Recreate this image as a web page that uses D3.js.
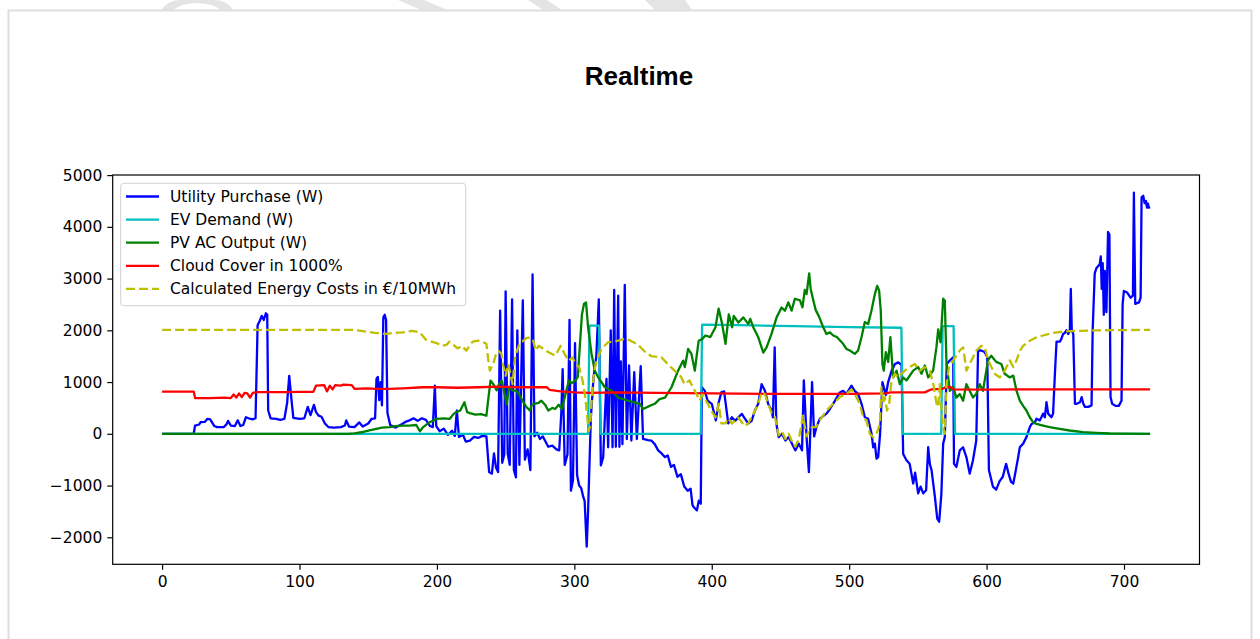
<!DOCTYPE html>
<html>
<head>
<meta charset="utf-8">
<script src="https://cdn.jsdelivr.net/npm/d3@7"></script>
<style>
  body { margin: 0; background: #fff; }
  svg { display: block; font-family: "DejaVu Sans", sans-serif; }
  .title { font-family: "Liberation Sans", Arial, sans-serif; font-weight: bold; font-size: 26px; }
  .axis text { font-size: 15.5px; fill: #000; font-family: "DejaVu Sans", sans-serif; }
  .axis line { stroke: #000; stroke-width: 1.2; }
  .axis path.domain { display: none; }
  .legend text { font-size: 15.5px; fill: #000; }
  .series { fill: none; stroke-width: 2.3; stroke-linejoin: round; }
  .mark { fill: #e4e4e4; }
</style>
</head>
<body>
<svg id="svg" width="1260" height="639">
  <g id="page"></g>
  <g id="lines"></g>
  <g id="frame"></g>
  <g id="legend" class="legend"></g>
</svg>
<script>
// minutes -> watts
const utilityPurchase = [
  [0,0],[23,0],[24,160],[27,180],[28,225],[31,230],[33,290],[35,280],[38,150],[40,130],[45,130],[47,190],[48,250],
  [50,160],[53,150],[55,260],[57,150],[59,170],[61,320],[63,300],[66,280],[68,300],[69.5,2100],[71,2180],[72.5,2280],
  [74,2200],[75.5,2330],[76.5,2300],[77.2,450],[79,300],[83,290],[86,270],[89,290],[91,600],[92.5,1120],[94,700],
  [95.5,310],[100,290],[103.5,300],[106,520],[108,360],[110.5,560],[112,420],[114,350],[116,330],[118.5,200],[121,130],
  [125,120],[130,130],[133,160],[134,260],[136,140],[140,130],[143.5,220],[146,140],[150,200],[152.5,290],[155,300],
  [156,1060],[157,1100],[158,650],[159,1000],[160,550],[161,2250],[162,2300],[163,2200],[164,400],[166,170],[170,120],
  [174,180],[177,230],[180,260],[183,300],[186,250],[189,300],[192,270],[195,150],[197,130],[198.5,930],[199.5,150],
  [202,50],[205,100],[208,-20],[211,60],[213,-40],[214.5,450],[216,-60],[219,-20],[221,-150],[224,-130],[227,-60],
  [230,-80],[233,-40],[236,-50],[238,-740],[240,-770],[241.5,-380],[243,-650],[244.5,-740],[246,2380],[247.5,-560],
  [249,-400],[250,2750],[251.5,-380],[253,-600],[254.7,2600],[256,-700],[257.5,-840],[258.5,2000],[260,-600],
  [262.5,2580],[264,-500],[266,-300],[268,-700],[269.6,3080],[271,-50],[273,20],[275,-100],[277,-50],[279,-150],
  [281,-250],[284,-230],[287,-300],[289,-320],[290.5,400],[291.5,1250],[293,-600],[295,-400],[296.5,2200],
  [297.5,-1100],[299,-900],[300.5,1750],[302,-800],[303.5,-1000],[305,-1050],[306.5,-1220],[307.5,-1300],[309,-2180],
  [310,-1500],[312,300],[314,1100],[316,1500],[317.8,2600],[319.3,-610],[321,-450],[323.4,1060],[324.6,-260],
  [326.5,2000],[327.8,-260],[329,2780],[330.2,-250],[331.9,2670],[332.8,-250],[333.8,1400],[335,-200],[336.7,2880],
  [338.2,-100],[339.8,1320],[341.5,-130],[343.6,1190],[345.5,-100],[348.3,1310],[350,-100],[353.6,-120],[356,-130],
  [358.5,-200],[361,-320],[363.5,-380],[366,-450],[368,-420],[370.3,-640],[372.5,-600],[375,-830],[377.5,-780],
  [380,-1020],[382.5,-1100],[384.6,-1060],[386,-1380],[387,-1420],[389.2,-1480],[390.6,-1290],[392,-1350],[392.8,900],
  [395,830],[397,640],[400,580],[403,260],[405,600],[407,800],[409,820],[412,200],[414.6,320],[417,250],[419.4,320],
  [421.9,385],[424,300],[426.5,200],[429,250],[431.4,450],[433.8,580],[436.3,960],[438.7,830],[441,580],[443.6,450],
  [444.5,320],[445.8,1670],[447,200],[448.7,-64],[451.1,0],[453.6,-130],[456,-60],[458.4,-190],[460.8,-320],
  [463.3,-190],[465.7,-320],[467,1030],[469,-60],[470.7,-740],[473,1000],[474.5,-50],[476.2,130],[478.6,290],
  [481,340],[483.5,390],[486,480],[488.3,580],[491,700],[493.2,800],[495.6,830],[498,770],[501.7,930],[504,830],
  [506.5,770],[509,580],[511.4,320],[513.8,290],[516.3,0],[517.5,-260],[518.7,-190],[519.9,-480],[521.1,-450],
  [522.5,0],[524.2,1000],[526.7,750],[528.4,1000],[530.9,1220],[533.3,1350],[535.7,1380],[538.1,1330],[539.3,-390],
  [541.7,-510],[544,-580],[546.6,-960],[548,-750],[550.2,-1150],[552,-1020],[553.9,-1150],[556,-1090],[557.5,-260],
  [558.7,-580],[560,-710],[562.4,-1220],[564.1,-1640],[565.5,-1700],[567.1,-1160],[568.4,-190],[569.6,-64],[571,1350],
  [573.2,1415],[575.7,1480],[576.3,-580],[578,-640],[580.5,-320],[582.9,-260],[585.3,-450],[587.7,-770],[590.1,-510],
  [592.5,-130],[593.8,1610],[596,1610],[598.6,1580],[600.5,1480],[601.7,-700],[604.6,-1020],[607,-1080],[609.4,-920],
  [611.8,-830],[614.2,-580],[616,-770],[617.8,-930],[619.4,-960],[620.6,-800],[623,-450],[624.2,-260],[626.6,-190],
  [629,-64],[631.5,130],[632.7,190],[635.1,220],[636.3,290],[638.7,260],[639.9,320],[641.1,390],[642.4,320],
  [643.6,610],[644.8,390],[647.2,320],[648.4,390],[649.6,1090],[650.9,1780],[653.3,1780],[654.5,1840],[655.7,1930],
  [656.9,1950],[658.1,2000],[659.4,1930],[660.6,2000],[661.3,2800],[662,2000],[663.1,1930],[664.3,580],[665.5,580],
  [668,610],[669.2,710],[670.4,580],[671.6,520],[674,520],[676.4,550],[677.2,2000],[678.7,3100],[679.9,3200],
  [681.1,3240],[682.4,3280],[683.1,3430],[683.8,2800],[684.5,3300],[685.3,2300],[686,3150],[687.2,2350],[688.4,3900],
  [689.4,3850],[690.2,710],[691.4,580],[693.8,540],[696.2,540],[698.2,640],[699,2500],[699.9,2760],[702.3,2730],
  [704.8,2630],[706.5,2670],[707.2,4660],[708.2,2510],[710.9,2540],[712.1,2630],[712.8,4570],[714,4600],[715,4460],
  [716,4500],[716.7,4370],[717.4,4450],[718,4370],[719,4380]
];

const evDemand = [
  [0,0],[310,0],[311,2090],[318,2090],[319,0],[392,0],[393,2110],[420,2100],[460,2080],[500,2060],[538,2050],
  [539,0],[567,0],[568,2080],[576,2080],[577,0],[719,0]
];

const pvOutput = [
  [0,0],[135,0],[140,10],[145,30],[150,60],[155,90],[160,120],[165.7,129],[170,150],[175,160],[180,160],[185,170],
  [187.6,50],[190,130],[194.8,225],[199.7,290],[205,300],[209.4,290],[212,380],[214,418],[217,450],[220,611],[222,420],
  [224,400],[228,370],[232,380],[236,350],[237.5,700],[239,1029],[241,960],[243.5,840],[245,950],[247.1,1029],[249,800],
  [250.8,570],[252.5,900],[255,840],[258,830],[260,750],[262.9,611],[265,520],[267.7,450],[269,560],[271,580],[274,600],
  [276,640],[279,550],[281,450],[284,500],[286,480],[288.6,560],[291,480],[293,700],[296,1030],[298,980],[300.8,1030],
  [302.5,1100],[304,1700],[305.5,2300],[307,2510],[308.5,2540],[310,2059],[312.5,1545],[314.9,1220],[317.4,1090],
  [322.2,900],[327,832],[332,700],[339,640],[347.6,580],[350,480],[354.8,540],[358.5,580],[362,670],[366,700],
  [370.7,900],[375.5,1220],[379.2,1415],[380.4,1290],[382.8,1640],[385.2,1545],[387.7,1220],[389,1500],[390.5,1800],
  [393,1830],[395.4,1900],[399,1870],[402.7,2060],[405,2420],[407.5,2130],[410,1740],[412.4,2310],[414.8,2060],
  [416,2280],[419.4,2150],[423,2250],[426.6,2120],[428,2220],[430.2,2060],[433.8,1870],[437.5,1570],[439.9,1670],
  [443.5,1930],[447.2,2250],[450.8,2440],[453.3,2380],[455.7,2540],[458.1,2380],[460.5,2610],[464.2,2580],[466,2444],
  [467.7,2780],[469,2700],[470.9,3100],[472,2800],[473.2,2660],[475.6,2395],[478,2270],[481.1,2060],[483.5,1930],
  [486,1960],[488.4,1900],[491,1870],[495.6,1740],[498,1640],[500.5,1610],[504.1,1545],[506.5,1610],[509,1870],
  [511.4,2160],[513.8,2120],[516.2,2380],[518.7,2700],[520.4,2860],[521.8,2770],[523,2380],[524.2,1350],[525.2,1220],
  [526.7,1580],[528.4,1390],[530,1870],[532,1090],[534.5,1220],[536.9,960],[539.3,1090],[541.7,1030],[546.6,1220],
  [550.2,1290],[552.6,1160],[555.1,1320],[557.5,1090],[561.1,1220],[563.5,1670],[564.8,2020],[566.5,1770],
  [568.4,2610],[569.6,2570],[570.8,1390],[573.2,830],[575.7,900],[578,700],[580.5,770],[582.9,640],[585.3,960],
  [587.7,830],[590.1,700],[592.5,770],[595,960],[597.4,830],[601,1420],[603.4,1510],[607,1390],[610.7,1350],
  [613.2,1160],[616.8,1090],[619.4,1125],[621.8,830],[624.2,640],[626.6,540],[629,450],[631.4,320],[633.8,225],
  [636.3,190],[641.1,160],[645.9,130],[653.2,96],[660.5,64],[670.2,32],[679.9,19],[689.6,6],[700,2],[719,0]
];

const cloudCover = [
  [0,816],[23,816],[24,690],[35,690],[45,700],[50,690],[52,760],[54,700],[56,780],[58,710],[60,790],[62,780],[64,700],
  [66,790],[68,800],[70,804],[90,804],[100,810],[110,810],[112,930],[118,940],[120,820],[122,930],[124,860],[126,940],
  [130,930],[132,950],[138,940],[140,870],[150,880],[155,870],[165,870],[175,880],[190,900],[200,900],[215,890],
  [230,900],[245,910],[260,900],[280,900],[282,850],[290,820],[300,800],[311,790],[330,800],[360,790],[400,780],
  [450,770],[500,770],[527,780],[530,800],[555,800],[560,860],[568,870],[570,900],[574,900],[576,860],[600,855],
  [650,860],[719,860]
];

const energyCosts = [
  [0,2008],[140,2008],[145,1990],[150,1970],[155,1950],[160,1940],[163,1930],[168,1950],[175,1960],[182,1990],
  [187.6,1960],[190,1880],[192,1820],[196,1780],[200,1750],[204,1700],[207,1720],[209,1780],[212,1720],[215,1650],
  [218,1700],[221.5,1608],[224,1720],[226,1780],[230,1800],[233,1780],[236,1740],[237.5,1400],[238.5,1222],[241,1350],
  [243,1540],[245,1600],[247,1540],[248,1350],[250,1120],[252,1350],[255,960],[257,1500],[260,1740],[263,1800],
  [265,1850],[267.7,1865],[270,1800],[272,1610],[274,1700],[276,1670],[279,1610],[281,1580],[286,1510],[288,1600],
  [290,1700],[293,1540],[296,1410],[298.6,1480],[301,1350],[303.5,1290],[306,1030],[308,700],[309.5,300],[310.5,50],
  [311.5,150],[312.5,600],[314,1100],[315.5,1350],[317.4,1500],[320,1650],[324.6,1770],[328,1780],[331.9,1800],
  [336.7,1840],[341,1800],[346.4,1720],[351.2,1590],[356,1500],[363.3,1480],[368,1350],[372.9,1220],[377.7,1100],
  [380.2,960],[383.8,1030],[387.7,830],[391.3,640],[393,760],[397.2,580],[399.5,450],[402.7,320],[405.1,580],[407,200],
  [409.9,200],[412,300],[414.7,200],[417,260],[419,320],[424,150],[426.5,200],[429,320],[431.5,450],[433.8,580],
  [436.3,800],[438.7,760],[441,580],[443.6,400],[445.8,350],[448.7,-30],[451,50],[453.6,-100],[456,0],[458.4,-150],
  [460.8,-250],[463.3,-100],[464,0],[466.5,350],[468.9,-50],[471.3,100],[473,130],[476,130],[478.6,260],[483.5,450],
  [488.4,580],[493.2,710],[498,770],[501.7,860],[504,770],[507.8,580],[510.1,320],[512.6,260],[515,0],[517.5,-64],
  [519.9,0],[522.3,190],[523.5,900],[524.7,580],[525.9,710],[527.6,450],[529.1,580],[530.8,1030],[533.2,1160],
  [535.7,1090],[538,1160],[540.5,1220],[544.1,1290],[547.8,1350],[551.4,1220],[555.1,1290],[558.7,1220],[561.2,960],
  [563.6,580],[564.8,520],[566,960],[567.2,450],[568.4,130],[569.6,0],[570.8,960],[572.7,1290],[575.7,1420],
  [578.1,1510],[580.5,1610],[582.9,1670],[584,1480],[585.3,1220],[587.7,1350],[590.2,1480],[592.6,1610],[596.2,1700],
  [598.7,1670],[601.1,1420],[603.5,1290],[605.9,1160],[609.6,1090],[613.2,1220],[616.9,1420],[619.4,1290],
  [621.8,1420],[624.2,1600],[626.6,1700],[631.5,1800],[636.3,1865],[641.1,1900],[648.4,1950],[655.7,1975],
  [665.4,1990],[680,2000],[719,2010]
];

const xTicks = [0, 100, 200, 300, 400, 500, 600, 700];
const yTicks = [-2000, -1000, 0, 1000, 2000, 3000, 4000, 5000];
const titleText = "Realtime";

const series = [
  { label: "Utility Purchase (W)", values: utilityPurchase, color: "#0000ff", dash: null },
  { label: "EV Demand (W)", values: evDemand, color: "#00bfbf", dash: null },
  { label: "PV AC Output (W)", values: pvOutput, color: "#008000", dash: null },
  { label: "Cloud Cover in 1000%", values: cloudCover, color: "#ff0000", dash: null },
  { label: "Calculated Energy Costs in €/10MWh", values: energyCosts, color: "#bfbf00", dash: "9,4" }
];

const svg = d3.select("svg#svg");

const g = {
  page: svg.select("g#page"),
  lines: svg.select("g#lines"),
  frame: svg.select("g#frame"),
  legend: svg.select("g#legend")
};

const box = { left: 112.7, top: 175, right: 1199.5, bottom: 564.3 };

// matplotlib style 5% margins around the data
const allX = series.flatMap(s => s.values.map(d => d[0]));
const allY = series.flatMap(s => s.values.map(d => d[1]));
const xPad = (d3.max(allX) - d3.min(allX)) * 0.05;
const yPad = (d3.max(allY) - d3.min(allY)) * 0.05;

const x = d3.scaleLinear()
  .domain([d3.min(allX) - xPad, d3.max(allX) + xPad])
  .range([box.left, box.right]);

const y = d3.scaleLinear()
  .domain([d3.min(allY) - yPad, d3.max(allY) + yPad])
  .range([box.bottom, box.top]);

var translate = function(a, b) {
  return "translate(" + a + ", " + b + ")";
}

var drawPage = function() {
  svg.insert("rect", ":first-child")
    .attr("width", 1260).attr("height", 639).attr("fill", "#fff");

  // faint watermark pieces peeking above the page frame
  g.page.append("path").attr("class", "mark")
    .attr("d", "M161,10 Q168,0 180,0 L214,0 Q227,0 233,10 L221,10 Q212,3 197,3 Q182,3 173,10 Z");
  g.page.append("path").attr("class", "mark").attr("d", "M398,0 L424,0 L447,10 L421,10 Z");
  g.page.append("path").attr("class", "mark").attr("d", "M528,0 L547,0 L562,10 L543,10 Z");
  g.page.append("path").attr("class", "mark").attr("d", "M645,0 L685,0 L692,10 L655,10 Z");

  g.page.append("rect")
    .attr("x", 8.5).attr("y", 10.5)
    .attr("width", 1243).attr("height", 650)
    .attr("fill", "none").attr("stroke", "#dedede").attr("stroke-width", 2);

  g.page.append("text")
    .attr("class", "title")
    .attr("x", 639).attr("y", 85)
    .attr("text-anchor", "middle")
    .text(titleText);
}

var drawAxes = function() {
  g.frame.append("g")
    .attr("class", "axis")
    .attr("transform", translate(0, box.bottom))
    .call(d3.axisBottom(x).tickValues(xTicks).tickSize(5.4).tickPadding(6.5));

  g.frame.append("g")
    .attr("class", "axis")
    .attr("transform", translate(box.left, 0))
    .call(d3.axisLeft(y).tickValues(yTicks).tickSize(5.4).tickPadding(5).tickFormat(d3.format("d")));

  g.frame.selectAll(".axis text")
    .text(function() { return this.textContent.replace("-", "\u2212"); });

  g.frame.append("rect")
    .attr("x", box.left).attr("y", box.top)
    .attr("width", box.right - box.left).attr("height", box.bottom - box.top)
    .attr("fill", "none").attr("stroke", "#000").attr("stroke-width", 1.2);
}

var drawLines = function() {
  let line = d3.line()
    .x(d => x(d[0]))
    .y(d => y(d[1]));

  g.lines.selectAll("path.series")
    .data(series)
    .enter()
    .append("path")
    .attr("class", "series")
    .attr("d", d => line(d.values))
    .attr("stroke", d => d.color)
    .attr("stroke-dasharray", d => d.dash);
}

var drawLegend = function() {
  g.legend.append("rect")
    .attr("x", 120.7).attr("y", 183.3)
    .attr("width", 345).attr("height", 122.4)
    .attr("rx", 3)
    .attr("fill", "#fff").attr("fill-opacity", 0.8)
    .attr("stroke", "#d0d0d0").attr("stroke-width", 1);

  let rows = g.legend.selectAll("g.row")
    .data(series)
    .enter()
    .append("g")
    .attr("class", "row")
    .attr("transform", (d, i) => translate(126, 196.5 + i * 23.1));

  rows.append("line")
    .attr("x1", 0).attr("x2", 33)
    .attr("stroke", d => d.color)
    .attr("stroke-width", 2.3)
    .attr("stroke-dasharray", d => d.dash);

  rows.append("text")
    .attr("x", 44)
    .attr("dy", "0.36em")
    .text(d => d.label);
}

drawPage();
drawLines();
drawAxes();
drawLegend();
</script>
</body>
</html>
